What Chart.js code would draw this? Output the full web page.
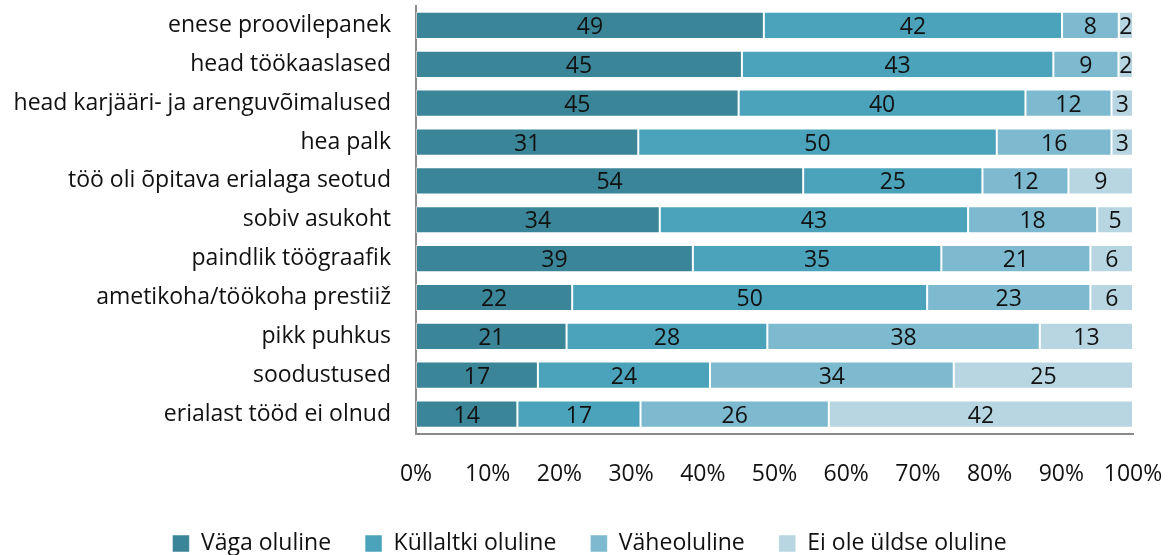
<!DOCTYPE html>
<html>
<head>
<meta charset="utf-8">
<script src="https://cdn.jsdelivr.net/npm/chart.js@4/dist/chart.umd.min.js"></script>
<style>
  html, body { margin: 0; padding: 0; background: #ffffff; }
  #wrap { width: 1171px; height: 555px; position: relative; }
</style>
</head>
<body>
<div id="wrap"><canvas id="chart" width="1171" height="555"></canvas></div>
<script>
// Reasons for choosing a job: share of answers per importance level
const categories = [
  'enese proovilepanek',
  'head töökaaslased',
  'head karjääri- ja arenguvõimalused',
  'hea palk',
  'töö oli õpitava erialaga seotud',
  'sobiv asukoht',
  'paindlik töögraafik',
  'ametikoha/töökoha prestiiž',
  'pikk puhkus',
  'soodustused',
  'erialast tööd ei olnud'
];
const seriesNames = ['Väga oluline', 'Küllaltki oluline', 'Väheoluline', 'Ei ole üldse oluline'];
const vagaOluline       = [49, 45, 45, 31, 54, 34, 39, 22, 21, 17, 14];
const kullaltkiOluline  = [42, 43, 40, 50, 25, 43, 35, 50, 28, 24, 17];
const vaheoluline       = [ 8,  9, 12, 16, 12, 18, 21, 23, 38, 34, 26];
const eiOleUldseOluline = [ 2,  2,  3,  3,  9,  5,  6,  6, 13, 25, 42];
const tickValues = [0, 10, 20, 30, 40, 50, 60, 70, 80, 90, 100];

const seriesValues = [vagaOluline, kullaltkiOluline, vaheoluline, eiOleUldseOluline];
const colors = ['#3a8597', '#4aa3ba', '#7dbad0', '#b7d6e1'];

// Rounded percentages may not add to exactly 100, so bar lengths are scaled per row
const rowTotals = categories.map((_, i) => seriesValues.reduce((s, arr) => s + arr[i], 0));

const FONT = '"Open Sans", sans-serif';
const FONT_SIZE = 23;
const TEXT = '#111111';
const AXIS = '#8a8a8a';

// Writes each segment's percentage in the middle of the segment
const valueLabels = {
  id: 'valueLabels',
  afterDatasetsDraw(chart) {
    const ctx = chart.ctx;
    ctx.save();
    ctx.font = FONT_SIZE + 'px ' + FONT;
    ctx.fillStyle = TEXT;
    ctx.textAlign = 'center';
    ctx.textBaseline = 'middle';
    chart.data.datasets.forEach((ds, di) => {
      const meta = chart.getDatasetMeta(di);
      meta.data.forEach((bar, i) => {
        const left = Math.min(bar.x, bar.base);
        const right = Math.max(bar.x, bar.base);
        ctx.fillText(String(ds.rawValues[i]), (left + right) / 2, bar.y + 2);
      });
    });
    ctx.restore();
  }
};

new Chart(document.getElementById('chart'), {
  type: 'bar',
  data: {
    labels: categories,
    datasets: seriesNames.map((name, k) => ({
      label: name,
      rawValues: seriesValues[k],
      data: seriesValues[k].map((v, i) => v / rowTotals[i] * 100),
      backgroundColor: colors[k],
      borderColor: 'rgba(255,255,255,0.5)',
      borderWidth: 1,
      borderSkipped: false,
      categoryPercentage: 1,
      barPercentage: 0.70
    }))
  },
  options: {
    indexAxis: 'y',
    responsive: false,
    animation: false,
    layout: { padding: { left: 8, right: 0, top: 6, bottom: -10 } },
    scales: {
      x: {
        stacked: true,
        min: 0,
        max: 100,
        afterBuildTicks(scale) { scale.ticks = tickValues.map(v => ({ value: v })); },
        afterFit(scale) {
          scale.height = 64.5;
          scale.paddingLeft = 0;
          scale.paddingRight = 38;
        },
        grid: { display: false, drawTicks: false },
        border: { display: true, color: AXIS, width: 2 },
        ticks: {
          padding: 27,
          maxRotation: 0,
          color: TEXT,
          font: { family: FONT, size: FONT_SIZE },
          callback: v => v + '%'
        }
      },
      y: {
        stacked: true,
        afterFit(scale) {
          scale.width = 408;
          scale.paddingTop = 0;
          scale.paddingBottom = 0;
        },
        grid: { display: false, drawTicks: false },
        border: { display: true, color: AXIS, width: 2 },
        ticks: {
          padding: 25,
          color: TEXT,
          font: { family: FONT, size: FONT_SIZE }
        }
      }
    },
    plugins: {
      legend: {
        position: 'bottom',
        labels: {
          color: TEXT,
          font: { family: FONT, size: FONT_SIZE },
          boxWidth: 17,
          boxHeight: 17,
          padding: 34
        }
      },
      tooltip: { enabled: false }
    }
  },
  plugins: [valueLabels]
});
</script>
</body>
</html>
